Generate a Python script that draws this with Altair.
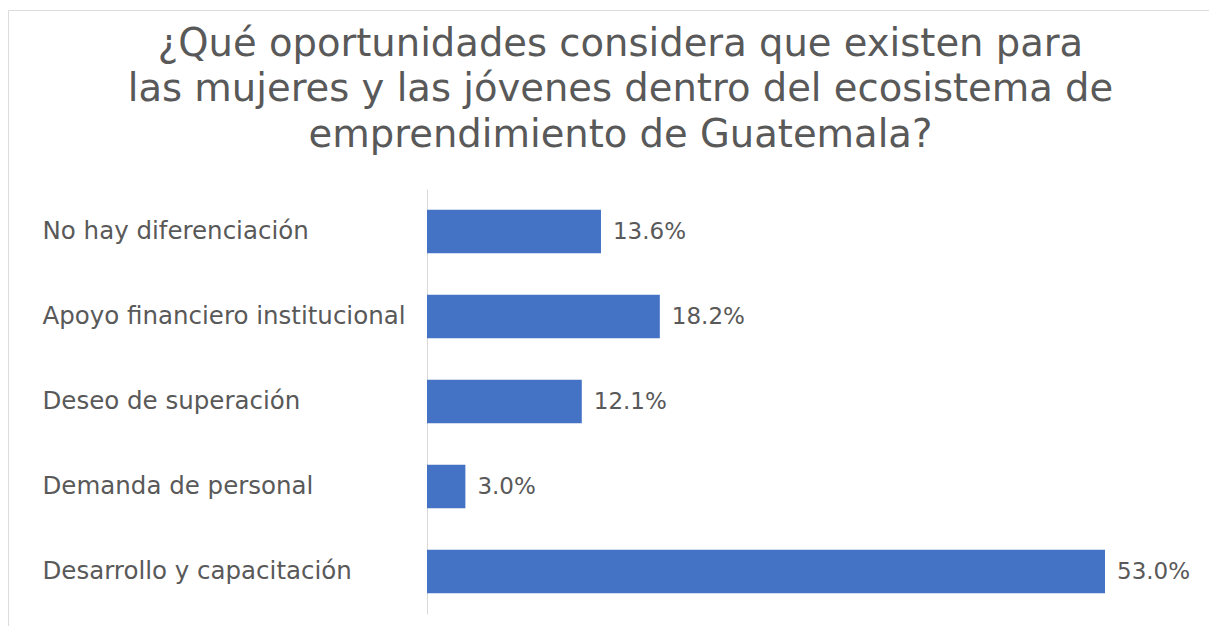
import altair as alt
import pandas as pd

categories = [
    "No hay diferenciación",
    "Apoyo financiero institucional",
    "Deseo de superación",
    "Demanda de personal",
    "Desarrollo y capacitación",
]
values = [13.6, 18.2, 12.1, 3.0, 53.0]
value_labels = ["13.6%", "18.2%", "12.1%", "3.0%", "53.0%"]

title_lines = [
    "¿Qué oportunidades considera que existen para",
    "las mujeres y las jóvenes dentro del ecosistema de",
    "emprendimiento de Guatemala?",
]

df = pd.DataFrame({"cat": categories, "val": values, "lab": value_labels})

FONT = "DejaVu Sans"
GRAY = "#595959"
W, H = 1201, 616

y_enc = alt.Y(
    "cat:N",
    sort=categories,
    scale=alt.Scale(range=[179, 604], paddingInner=0.49, paddingOuter=0.245),
    axis=alt.Axis(
        title=None,
        orient="left",
        offset=-419,
        ticks=False,
        tickSize=0,
        labelAlign="left",
        labelPadding=385,
        labelFont=FONT,
        labelFontSize=24.5,
        labelColor=GRAY,
        labelLimit=500,
        domainColor="#d9d9d9",
        domainWidth=1,
        grid=False,
    ),
)
x_scale = alt.Scale(domain=[0, 53], range=[419, 1097], zero=False, nice=False)

bars = alt.Chart(df).mark_bar(color="#4472C4").encode(
    x=alt.X("val:Q", scale=x_scale, axis=None),
    y=y_enc,
)
text = alt.Chart(df).mark_text(
    align="left", baseline="middle", dx=12, font=FONT, fontSize=23, color=GRAY
).encode(
    x=alt.X("val:Q", scale=x_scale, axis=None),
    y=alt.Y("cat:N", sort=categories),
    text="lab:N",
)

chart = (
    alt.layer(bars, text)
    .properties(
        width=W,
        height=H,
        autosize=alt.AutoSizeParams(type="none"),
        padding={"left": 0, "top": 2, "right": 0, "bottom": 0},
        title=alt.TitleParams(
            text=title_lines,
            anchor="middle",
            frame="group",
            orient="top",
            offset=-145,
            dx=12,
            font=FONT,
            fontSize=38.5,
            fontWeight="normal",
            color=GRAY,
            lineHeight=45.5,
        ),
    )
    .configure_view(stroke="#e8e8e8", strokeWidth=2)
    .configure(background="white")
)

chart.save("out.html", embed_options={"renderer": "svg", "actions": False})
